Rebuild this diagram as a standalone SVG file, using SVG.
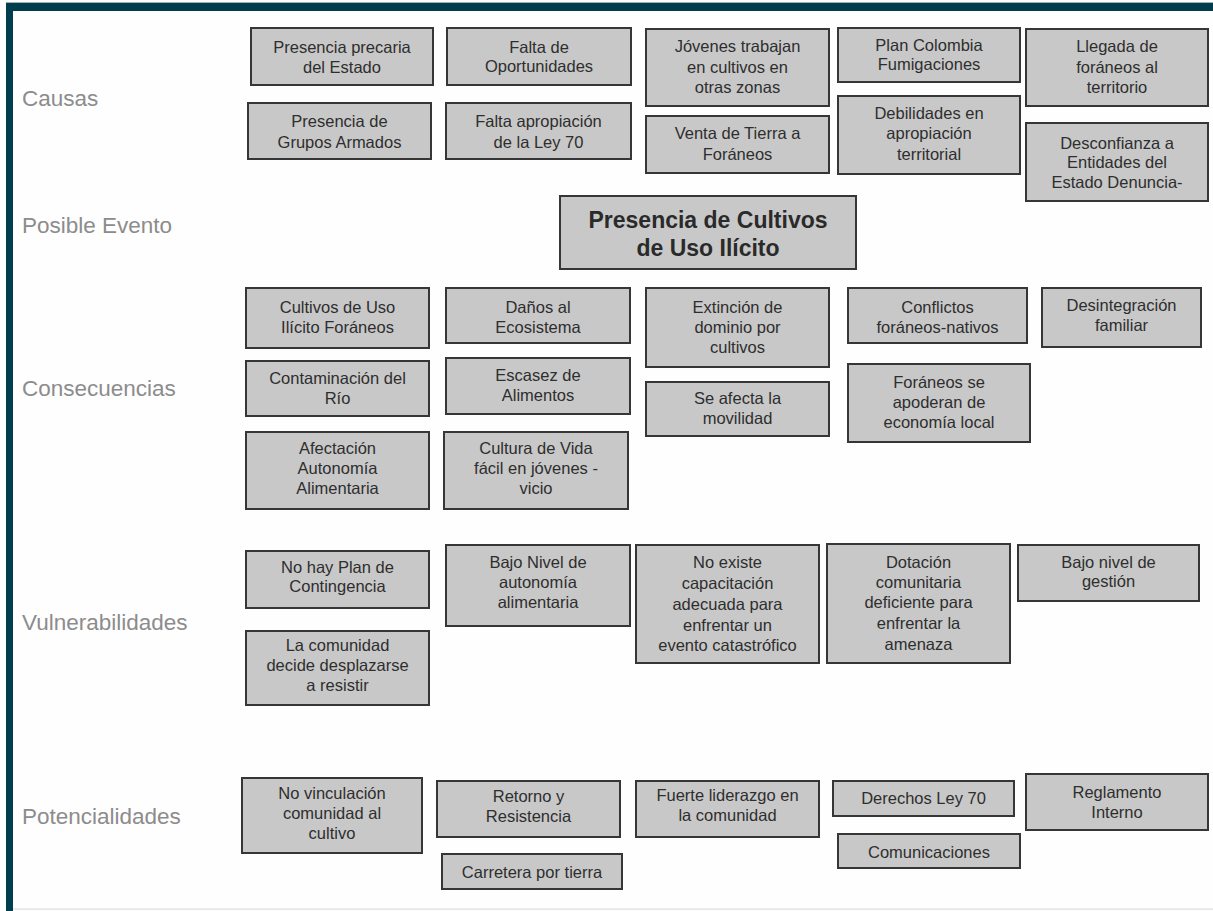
<svg xmlns="http://www.w3.org/2000/svg" width="1213" height="911" viewBox="0 0 1213 911">
<style>
.box{fill:#c8c8c8;stroke:#363636;stroke-width:2}
.t{font-family:"Liberation Sans",Arial,sans-serif;font-size:16.5px;fill:#2e2e2e;text-anchor:middle}
.ev{font-family:"Liberation Sans",Arial,sans-serif;font-size:23px;font-weight:bold;fill:#2a2a2a;text-anchor:middle}
.lbl{font-family:"Liberation Sans",Arial,sans-serif;font-size:22.5px;fill:#8c8c8c}
</style>
<rect x="0" y="0" width="1213" height="911" fill="#fefefe"/>
<g id="frame">
<rect x="6" y="2" width="1207" height="1.5" fill="#9fb2b8"/>
<rect x="6" y="3" width="1207" height="8" fill="#003d4d"/>
<rect x="6" y="3" width="7" height="908" fill="#003d4d"/>
<rect x="13" y="908.5" width="1200" height="1.2" fill="#dcdcdc"/>
</g>
<g id="labels">
<text class="lbl" x="22" y="106">Causas</text>
<text class="lbl" x="22" y="233">Posible Evento</text>
<text class="lbl" x="22" y="396">Consecuencias</text>
<text class="lbl" x="22" y="630">Vulnerabilidades</text>
<text class="lbl" x="22" y="824">Potencialidades</text>
</g>
<g id="connectors"></g>
<!-- Causas -->
<g id="causa1"><rect class="box" x="251" y="28" width="182" height="57"/><text class="t" x="342" y="53">Presencia precaria</text><text class="t" x="342" y="73">del Estado</text></g>
<g id="causa2"><rect class="box" x="447" y="28" width="184" height="57"/><text class="t" x="539" y="53">Falta de</text><text class="t" x="539" y="72">Oportunidades</text></g>
<g id="causa3"><rect class="box" x="646" y="29" width="183" height="77"/><text class="t" x="737.5" y="52">Jóvenes trabajan</text><text class="t" x="737.5" y="73">en cultivos en</text><text class="t" x="737.5" y="93">otras zonas</text></g>
<g id="causa4"><rect class="box" x="838" y="28" width="182" height="54"/><text class="t" x="929" y="51">Plan Colombia</text><text class="t" x="929" y="70">Fumigaciones</text></g>
<g id="causa5"><rect class="box" x="1026" y="29" width="182" height="77"/><text class="t" x="1117" y="52">Llegada de</text><text class="t" x="1117" y="73">foráneos al</text><text class="t" x="1117" y="93">territorio</text></g>
<g id="causa6"><rect class="box" x="248" y="103" width="183" height="56"/><text class="t" x="339.5" y="127">Presencia de</text><text class="t" x="339.5" y="148">Grupos Armados</text></g>
<g id="causa7"><rect class="box" x="446" y="103" width="185" height="56"/><text class="t" x="538.5" y="127">Falta apropiación</text><text class="t" x="538.5" y="148">de la Ley 70</text></g>
<g id="causa8"><rect class="box" x="646" y="116" width="183" height="57"/><text class="t" x="737.5" y="139">Venta de Tierra a</text><text class="t" x="737.5" y="160">Foráneos</text></g>
<g id="causa9"><rect class="box" x="838" y="96" width="182" height="78"/><text class="t" x="929" y="119">Debilidades en</text><text class="t" x="929" y="139">apropiación</text><text class="t" x="929" y="160">territorial</text></g>
<g id="causa10"><rect class="box" x="1026" y="123" width="182" height="78"/><text class="t" x="1117" y="149">Desconfianza a</text><text class="t" x="1117" y="168">Entidades del</text><text class="t" x="1117" y="188">Estado Denuncia-</text></g>
<!-- Evento -->
<g id="evento"><rect class="box" x="560" y="196" width="296" height="73"/><text class="ev" x="708" y="228">Presencia de Cultivos</text><text class="ev" x="708" y="256">de Uso Ilícito</text></g>
<!-- Consecuencias -->
<g id="cons1"><rect class="box" x="246" y="288" width="183" height="60"/><text class="t" x="337.5" y="313">Cultivos de Uso</text><text class="t" x="337.5" y="333">Ilícito Foráneos</text></g>
<g id="cons2"><rect class="box" x="446" y="288" width="184" height="55"/><text class="t" x="538" y="313">Daños al</text><text class="t" x="538" y="333">Ecosistema</text></g>
<g id="cons3"><rect class="box" x="646" y="288" width="183" height="79"/><text class="t" x="737.5" y="313">Extinción de</text><text class="t" x="737.5" y="333">dominio por</text><text class="t" x="737.5" y="353">cultivos</text></g>
<g id="cons4"><rect class="box" x="848" y="288" width="179" height="55"/><text class="t" x="937.5" y="313">Conflictos</text><text class="t" x="937.5" y="333">foráneos-nativos</text></g>
<g id="cons5"><rect class="box" x="1042" y="288" width="159" height="59"/><text class="t" x="1121.5" y="311">Desintegración</text><text class="t" x="1121.5" y="331">familiar</text></g>
<g id="cons6"><rect class="box" x="246" y="361" width="183" height="55"/><text class="t" x="337.5" y="384">Contaminación del</text><text class="t" x="337.5" y="404">Río</text></g>
<g id="cons7"><rect class="box" x="446" y="358" width="184" height="56"/><text class="t" x="538" y="381">Escasez de</text><text class="t" x="538" y="401">Alimentos</text></g>
<g id="cons8"><rect class="box" x="646" y="382" width="183" height="54"/><text class="t" x="737.5" y="404">Se afecta la</text><text class="t" x="737.5" y="424">movilidad</text></g>
<g id="cons9"><rect class="box" x="848" y="364" width="182" height="78"/><text class="t" x="939" y="388">Foráneos se</text><text class="t" x="939" y="408">apoderan de</text><text class="t" x="939" y="428">economía local</text></g>
<g id="cons10"><rect class="box" x="246" y="432" width="183" height="77"/><text class="t" x="337.5" y="454">Afectación</text><text class="t" x="337.5" y="474">Autonomía</text><text class="t" x="337.5" y="494">Alimentaria</text></g>
<g id="cons11"><rect class="box" x="444" y="432" width="184" height="77"/><text class="t" x="536" y="454">Cultura de Vida</text><text class="t" x="536" y="474">fácil en jóvenes -</text><text class="t" x="536" y="494">vicio</text></g>
<!-- Vulnerabilidades -->
<g id="vul1"><rect class="box" x="246" y="551" width="183" height="57"/><text class="t" x="337.5" y="573">No hay Plan de</text><text class="t" x="337.5" y="592">Contingencia</text></g>
<g id="vul2"><rect class="box" x="446" y="545" width="184" height="81"/><text class="t" x="538" y="568">Bajo Nivel de</text><text class="t" x="538" y="588">autonomía</text><text class="t" x="538" y="608">alimentaria</text></g>
<g id="vul3"><rect class="box" x="636" y="545" width="183" height="118"/><text class="t" x="727.5" y="568">No existe</text><text class="t" x="727.5" y="589">capacitación</text><text class="t" x="727.5" y="610">adecuada para</text><text class="t" x="727.5" y="631">enfrentar un</text><text class="t" x="727.5" y="651">evento catastrófico</text></g>
<g id="vul4"><rect class="box" x="827" y="544" width="183" height="119"/><text class="t" x="918.5" y="568">Dotación</text><text class="t" x="918.5" y="588">comunitaria</text><text class="t" x="918.5" y="608">deficiente para</text><text class="t" x="918.5" y="629">enfrentar la</text><text class="t" x="918.5" y="650">amenaza</text></g>
<g id="vul5"><rect class="box" x="1018" y="545" width="181" height="56"/><text class="t" x="1108.5" y="568">Bajo nivel de</text><text class="t" x="1108.5" y="587">gestión</text></g>
<g id="vul6"><rect class="box" x="246" y="631" width="183" height="74"/><text class="t" x="337.5" y="651">La comunidad</text><text class="t" x="337.5" y="671">decide desplazarse</text><text class="t" x="337.5" y="691">a resistir</text></g>
<!-- Potencialidades -->
<g id="pot1"><rect class="box" x="242" y="778" width="180" height="75"/><text class="t" x="332" y="799">No vinculación</text><text class="t" x="332" y="819">comunidad al</text><text class="t" x="332" y="839">cultivo</text></g>
<g id="pot2"><rect class="box" x="437" y="781" width="183" height="56"/><text class="t" x="528.5" y="802">Retorno y</text><text class="t" x="528.5" y="822">Resistencia</text></g>
<g id="pot3"><rect class="box" x="636" y="781" width="183" height="56"/><text class="t" x="727.5" y="801">Fuerte liderazgo en</text><text class="t" x="727.5" y="821">la comunidad</text></g>
<g id="pot4"><rect class="box" x="833" y="781" width="181" height="35"/><text class="t" x="923.5" y="804">Derechos Ley 70</text></g>
<g id="pot5"><rect class="box" x="1026" y="774" width="182" height="56"/><text class="t" x="1117" y="798">Reglamento</text><text class="t" x="1117" y="818">Interno</text></g>
<g id="pot6"><rect class="box" x="442" y="854" width="180" height="35"/><text class="t" x="532" y="878">Carretera por tierra</text></g>
<g id="pot7"><rect class="box" x="838" y="834" width="182" height="34"/><text class="t" x="929" y="858">Comunicaciones</text></g>
</svg>
